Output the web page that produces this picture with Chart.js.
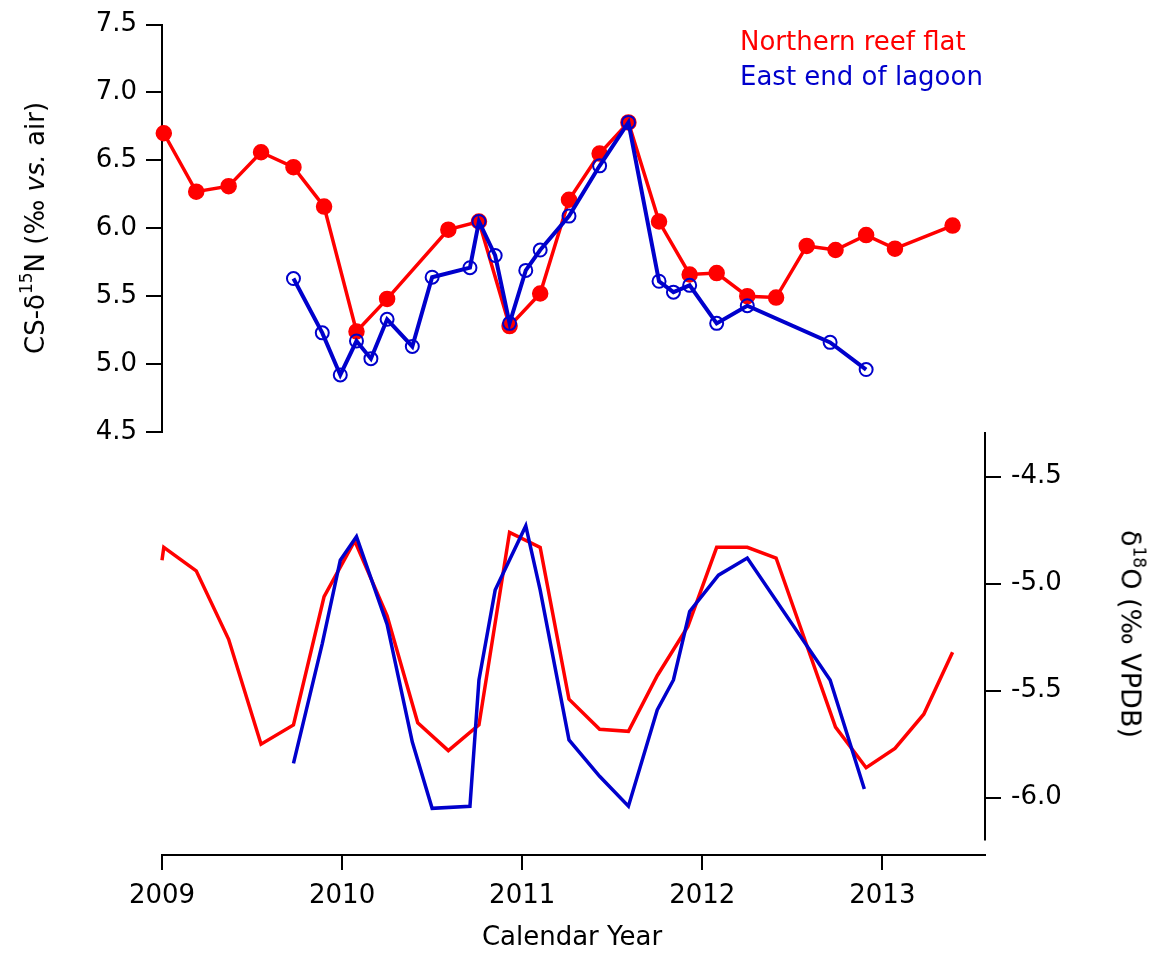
<!DOCTYPE html>
<html>
<head>
<meta charset="utf-8">
<script src="https://cdn.jsdelivr.net/npm/chart.js@4"></script>
<style>
  html, body { margin: 0; padding: 0; background: #fff; }
  #wrap { position: relative; width: 1162px; height: 953px; font-family: "DejaVu Sans", sans-serif; color: #000; }
  canvas { position: absolute; left: 0; top: 0; }
  .lbl { position: absolute; font-size: 26px; white-space: nowrap; }
  .lbl sup { font-size: 17px; vertical-align: 0; position: relative; top: -12px; }
  #yLeft { left: 35px; top: 228px; transform: translate(-50%, -50%) rotate(-90deg); }
  #yRight { left: 1131px; top: 634px; transform: translate(-50%, -50%) rotate(90deg); font-size: 27px; }
  #xTitle { left: 572px; top: 936px; transform: translate(-50%, -50%); font-size: 26px; }
  #leg1 { left: 740px; top: 26px; color: #ff0000; }
  #leg2 { left: 740px; top: 61px; color: #0000cc; }
</style>
</head>
<body>
<div id="wrap">
  <canvas id="topChart" width="1162" height="953"></canvas>
  <canvas id="botChart" width="1162" height="953"></canvas>
  <div class="lbl" id="yLeft">CS-δ<sup>15</sup>N (‰ <i>vs.</i> air)</div>
  <div class="lbl" id="yRight">δ<sup>18</sup>O (‰ VPDB)</div>
  <div class="lbl" id="xTitle">Calendar Year</div>
  <div class="lbl" id="leg1">Northern reef flat</div>
  <div class="lbl" id="leg2">East end of lagoon</div>
</div>
<script>
// x axis
const yearTicks = [2009, 2010, 2011, 2012, 2013];
const yearLabels = ["2009", "2010", "2011", "2012", "2013"];

// top panel: CS-d15N
const n15Ticks = [4.5, 5.0, 5.5, 6.0, 6.5, 7.0, 7.5];
const n15Labels = ["4.5", "5.0", "5.5", "6.0", "6.5", "7.0", "7.5"];

const reefN15Year = [2009.01, 2009.19, 2009.37, 2009.55, 2009.73, 2009.90, 2010.08, 2010.25, 2010.59,
  2010.76, 2010.93, 2011.10, 2011.26, 2011.43, 2011.59, 2011.76, 2011.93, 2012.08, 2012.25, 2012.41,
  2012.58, 2012.74, 2012.91, 2013.07, 2013.39];
const reefN15 = [6.70, 6.27, 6.31, 6.56, 6.45, 6.16, 5.24, 5.48, 5.99,
  6.05, 5.28, 5.52, 6.21, 6.55, 6.78, 6.05, 5.66, 5.67, 5.50, 5.49,
  5.87, 5.84, 5.95, 5.85, 6.02];

const lagoonN15Year = [2009.73, 2009.89, 2009.99, 2010.08, 2010.16, 2010.25, 2010.39, 2010.50, 2010.71,
  2010.76, 2010.85, 2010.93, 2011.02, 2011.10, 2011.26, 2011.43, 2011.59, 2011.76, 2011.84, 2011.93,
  2012.08, 2012.25, 2012.71, 2012.91];
const lagoonN15 = [5.63, 5.23, 4.92, 5.17, 5.04, 5.33, 5.13, 5.64, 5.71,
  6.05, 5.80, 5.30, 5.69, 5.84, 6.09, 6.46, 6.78, 5.61, 5.53, 5.58,
  5.30, 5.43, 5.16, 4.96];

// bottom panel: d18O
const o18Ticks = [-6.0, -5.5, -5.0, -4.5];
const o18Labels = ["-6.0", "-5.5", "-5.0", "-4.5"];

const reefO18Year = [2009.00, 2009.01, 2009.19, 2009.37, 2009.55, 2009.73, 2009.90, 2010.07, 2010.25,
  2010.42, 2010.59, 2010.76, 2010.93, 2011.10, 2011.26, 2011.43, 2011.59, 2011.75, 2011.92, 2012.08,
  2012.25, 2012.41, 2012.74, 2012.91, 2013.07, 2013.23, 2013.39];
const reefO18 = [-4.89, -4.83, -4.94, -5.26, -5.75, -5.66, -5.06, -4.80, -5.15,
  -5.65, -5.78, -5.66, -4.76, -4.83, -5.54, -5.68, -5.69, -5.43, -5.20, -4.83,
  -4.83, -4.88, -5.67, -5.86, -5.77, -5.61, -5.32];

const lagoonO18Year = [2009.73, 2009.89, 2009.99, 2010.08, 2010.25, 2010.39, 2010.50, 2010.71, 2010.76,
  2010.85, 2011.02, 2011.10, 2011.26, 2011.43, 2011.59, 2011.75, 2011.84, 2011.93, 2012.09, 2012.25,
  2012.71, 2012.90];
const lagoonO18 = [-5.84, -5.28, -4.89, -4.78, -5.19, -5.74, -6.05, -6.04, -5.45,
  -5.03, -4.73, -5.03, -5.73, -5.90, -6.04, -5.59, -5.45, -5.13, -4.96, -4.88,
  -5.45, -5.96];

const RED = "#ff0000";
const BLUE = "#0000cc";
const xMin = 2009, xMax = 2013.57;
const o18Min = -6.268, o18Max = -4.291, o18AxisEnd = -6.2;

function pts(xs, ys) {
  return xs.map((x, i) => ({ x: x, y: ys[i] }));
}

Chart.defaults.font.family = "DejaVu Sans";
Chart.defaults.font.size = 26;
Chart.defaults.color = "#000";

const axisGrid = { drawOnChartArea: false, color: "#000", lineWidth: 2, tickLength: 16 };
const common = {
  responsive: false,
  animation: false,
  events: [],
  plugins: { legend: { display: false }, tooltip: { enabled: false } }
};

new Chart(document.getElementById("topChart"), {
  type: "line",
  data: {
    datasets: [{
      data: pts(reefN15Year, reefN15),
      borderColor: RED,
      borderWidth: 3.5,
      pointRadius: 7.5,
      pointBackgroundColor: RED,
      pointBorderColor: RED,
      pointBorderWidth: 1.5,
      tension: 0,
      clip: false,
      order: 2
    }, {
      data: pts(lagoonN15Year, lagoonN15),
      borderColor: BLUE,
      borderWidth: 4,
      pointRadius: 6.5,
      pointBackgroundColor: "rgba(0,0,0,0)",
      pointBorderColor: BLUE,
      pointBorderWidth: 2,
      tension: 0,
      clip: false,
      order: 1
    }]
  },
  options: {
    ...common,
    layout: { autoPadding: false, padding: { top: 20, left: 0, right: 177, bottom: 521 } },
    scales: {
      x: { type: "linear", min: xMin, max: xMax, display: false },
      y: {
        type: "linear",
        position: "left",
        min: 4.5,
        max: 7.5,
        grid: axisGrid,
        border: { color: "#000", width: 2 },
        afterBuildTicks: s => { s.ticks = n15Ticks.map(v => ({ value: v })); },
        afterFit: s => { s.width = 162; },
        ticks: { padding: 9, callback: (v, i) => n15Labels[i] }
      }
    }
  }
});

const rightAxisLine = {
  id: "rightAxisLine",
  afterDraw(chart) {
    const s = chart.scales.y;
    const ctx = chart.ctx;
    ctx.save();
    ctx.strokeStyle = "#000";
    ctx.lineWidth = 2;
    ctx.beginPath();
    ctx.moveTo(s.left, chart.chartArea.top);
    ctx.lineTo(s.left, s.getPixelForValue(o18AxisEnd));
    ctx.stroke();
    ctx.restore();
  }
};

new Chart(document.getElementById("botChart"), {
  type: "line",
  data: {
    datasets: [{
      data: pts(reefO18Year, reefO18),
      borderColor: RED,
      borderWidth: 3.5,
      pointRadius: 0,
      tension: 0,
      clip: false,
      order: 2
    }, {
      data: pts(lagoonO18Year, lagoonO18),
      borderColor: BLUE,
      borderWidth: 3.5,
      pointRadius: 0,
      tension: 0,
      clip: false,
      order: 1
    }]
  },
  options: {
    ...common,
    layout: { autoPadding: false, padding: { top: 432, left: 162, right: 0, bottom: 0 } },
    scales: {
      x: {
        type: "linear",
        position: "bottom",
        min: xMin,
        max: xMax,
        grid: { ...axisGrid, tickLength: 15 },
        border: { color: "#000", width: 2 },
        afterBuildTicks: s => { s.ticks = yearTicks.map(v => ({ value: v })); },
        afterFit: s => { s.height = 98; },
        ticks: { padding: 11, maxRotation: 0, autoSkip: false, callback: (v, i) => yearLabels[i] }
      },
      y: {
        type: "linear",
        position: "right",
        min: o18Min,
        max: o18Max,
        grid: axisGrid,
        border: { display: false },
        afterBuildTicks: s => { s.ticks = o18Ticks.map(v => ({ value: v })); },
        afterFit: s => { s.width = 177; },
        ticks: { padding: 10, callback: (v, i) => o18Labels[i] }
      }
    }
  },
  plugins: [rightAxisLine]
});
</script>
</body>
</html>
